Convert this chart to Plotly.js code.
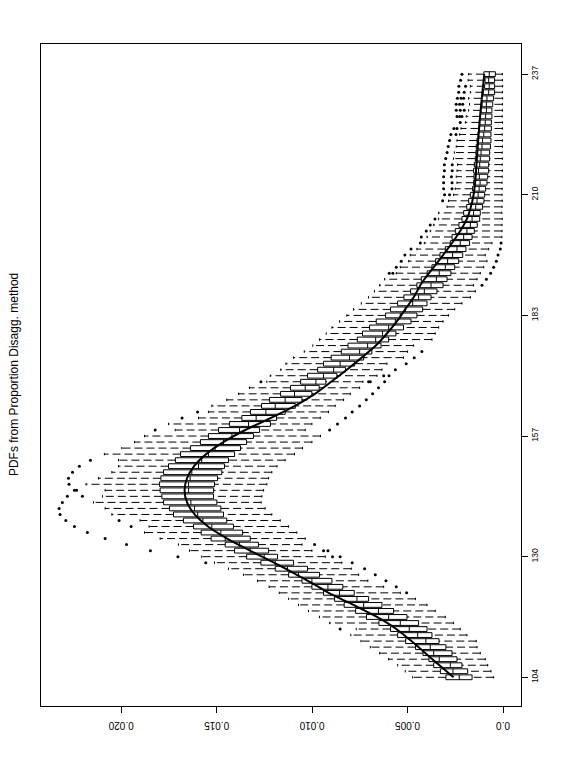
<!DOCTYPE html>
<html>
<head>
<meta charset="utf-8">
<script src="https://cdn.plot.ly/plotly-3.0.1.min.js"></script>
<style>
html,body{margin:0;padding:0;background:#fff;}
#chart{width:573px;height:771px;}
</style>
</head>
<body>
<div id="chart"></div>
<script>
// ---- data ----
const ageLabels = ['104','130','157','183','210','237'];
const labelPositions = [1, 21, 41, 61, 81, 101];

const q1 = [0.00162,0.00185,0.00215,0.00241,0.00267,0.00299,0.00335,0.00372,0.00398,0.00442,
0.00503,0.00573,0.00634,0.00704,0.00779,0.00839,0.00896,0.00961,0.01024,0.01097,
0.01181,0.01228,0.01281,0.01324,0.01364,0.01412,0.01447,0.01464,0.01478,0.01499,
0.01516,0.01516,0.01511,0.01495,0.01473,0.01459,0.01438,0.01406,0.01375,0.01343,
0.01307,0.01275,0.01218,0.01186,0.01141,0.01088,0.01053,0.01001,0.00963,0.00928,
0.00870,0.00825,0.00777,0.00730,0.00687,0.00639,0.00599,0.00561,0.00521,0.00482,
0.00451,0.00421,0.00398,0.00377,0.00346,0.00314,0.00293,0.00273,0.00253,0.00232,
0.00211,0.00194,0.00175,0.00162,0.00150,0.00135,0.00122,0.00119,0.00107,0.00100,
0.00096,0.00091,0.00084,0.00080,0.00075,0.00075,0.00070,0.00070,0.00066,0.00063,
0.00063,0.00061,0.00061,0.00058,0.00058,0.00054,0.00049,0.00044,0.00044,0.00044,0.00040];

const median = [0.00229,0.00262,0.00276,0.00334,0.00363,0.00381,0.00404,0.00447,0.00491,0.00538,
0.00599,0.00652,0.00730,0.00765,0.00856,0.00917,0.01001,0.01071,0.01129,0.01193,
0.01251,0.01324,0.01380,0.01455,0.01478,0.01525,0.01572,0.01599,0.01616,0.01635,
0.01665,0.01647,0.01647,0.01639,0.01630,0.01595,0.01578,0.01543,0.01508,0.01464,
0.01420,0.01380,0.01333,0.01293,0.01242,0.01193,0.01141,0.01092,0.01036,0.00980,
0.00940,0.00887,0.00853,0.00804,0.00751,0.00709,0.00667,0.00631,0.00599,0.00564,
0.00538,0.00512,0.00473,0.00442,0.00412,0.00377,0.00349,0.00334,0.00302,0.00290,
0.00264,0.00241,0.00224,0.00206,0.00189,0.00171,0.00162,0.00154,0.00143,0.00136,
0.00130,0.00125,0.00120,0.00124,0.00128,0.00122,0.00119,0.00115,0.00110,0.00107,
0.00101,0.00096,0.00093,0.00091,0.00087,0.00087,0.00084,0.00075,0.00072,0.00075,0.00072];

const q3 = [0.00299,0.00328,0.00363,0.00388,0.00419,0.00458,0.00510,0.00552,0.00589,0.00650,
0.00715,0.00772,0.00832,0.00882,0.00940,0.01001,0.01053,0.01123,0.01193,0.01268,
0.01343,0.01406,0.01455,0.01529,0.01581,0.01621,0.01674,0.01726,0.01747,0.01778,
0.01787,0.01796,0.01799,0.01792,0.01778,0.01752,0.01716,0.01689,0.01637,0.01585,
0.01543,0.01490,0.01433,0.01368,0.01323,0.01265,0.01223,0.01165,0.01113,0.01060,
0.01024,0.00971,0.00940,0.00900,0.00847,0.00812,0.00763,0.00736,0.00699,0.00664,
0.00615,0.00589,0.00552,0.00519,0.00484,0.00451,0.00428,0.00397,0.00372,0.00353,
0.00330,0.00302,0.00276,0.00267,0.00250,0.00231,0.00215,0.00206,0.00190,0.00180,
0.00171,0.00159,0.00154,0.00152,0.00154,0.00150,0.00145,0.00142,0.00140,0.00136,
0.00131,0.00128,0.00124,0.00119,0.00115,0.00110,0.00112,0.00103,0.00096,0.00094,0.00100];

const whiskerHigh = [0.00473,0.00512,0.00552,0.00599,0.00646,0.00695,0.00744,0.00797,0.00769,0.00908,
0.00961,0.01019,0.01071,0.01123,0.01172,0.01225,0.01286,0.01359,0.01438,0.01511,
0.01578,0.01642,0.01700,0.01796,0.01878,0.01854,0.01901,0.02049,0.02084,0.02145,
0.02098,0.02084,0.02184,0.02119,0.02049,0.02014,0.02014,0.02088,0.01997,0.01930,
0.01878,0.01717,0.01752,0.01595,0.01543,0.01525,0.01447,0.01385,0.01328,0.01237,
0.01219,0.01164,0.01137,0.01097,0.01041,0.00996,0.00961,0.00926,0.00896,0.00856,
0.00818,0.00783,0.00742,0.00704,0.00673,0.00646,0.00620,0.00559,0.00538,0.00494,
0.00486,0.00451,0.00412,0.00398,0.00381,0.00363,0.00337,0.00337,0.00293,0.00285,
0.00259,0.00250,0.00241,0.00245,0.00241,0.00238,0.00259,0.00255,0.00245,0.00241,
0.00227,0.00220,0.00197,0.00192,0.00180,0.00175,0.00180,0.00171,0.00171,0.00183,0.00180];

const whiskerLow = [0.00049,0.00063,0.00080,0.00093,0.00119,0.00136,0.00140,0.00189,0.00224,0.00259,
0.00302,0.00355,0.00398,0.00459,0.00538,0.00625,0.00708,0.00756,0.00795,0.00844,
0.00931,0.01001,0.01053,0.01036,0.01080,0.01123,0.01167,0.01211,0.01246,0.01267,
0.01263,0.01254,0.01237,0.01228,0.01211,0.01184,0.01141,0.01092,0.01050,0.01001,
0.00956,0.01036,0.01001,0.00957,0.00914,0.00879,0.00835,0.00800,0.00751,0.00734,
0.00660,0.00634,0.00608,0.00521,0.00500,0.00468,0.00372,0.00355,0.00337,0.00314,
0.00285,0.00253,0.00215,0.00171,0.00145,0.00154,0.00136,0.00119,0.00101,0.00084,
0.00093,0.00075,0.00058,0.00006,0.00005,0.00005,0.00004,0.00006,0.00005,0.00004,
0.00005,0.00004,0.00005,0.00004,0.00003,0.00004,0.00003,0.00004,0.00003,0.00003,
0.00004,0.00003,0.00003,0.00004,0.00003,0.00003,0.00002,0.00003,0.00002,0.00003,0.00003];

// outliers: box number (1-based) and value
const outlierBox = [9,15,16,17,18,19,20,20,21,21,21,22,22,22,23,23,24,25,26,26,27,27,28,29,30,31,31,32,32,33,34,35,36,37,
42,42,43,44,44,45,45,46,47,48,49,50,50,50,50,51,51,52,53,54,55,
66,67,68,68,68,69,69,70,70,71,71,72,72,73,73,74,75,76,77,
80,81,81,82,82,83,83,84,84,85,85,86,86,87,88,89,90,91,91,92,92,93,94,94,94,95,95,95,96,96,96,97,97,97,98,98,99,99,100,101];
const outlierValue = [0.00853,0.00505,0.00559,0.00613,0.00669,0.00725,0.00790,0.01557,0.00893,0.00853,0.01703,0.00940,0.00917,0.01847,0.00987,0.01972,0.02084,0.02177,0.02245,0.01948,0.02290,0.02011,0.02320,0.02325,0.02308,0.02282,0.02203,0.02245,0.02234,0.02273,0.02276,0.02255,0.02219,0.02161,
0.01822,0.00908,0.00867,0.01681,0.00825,0.01600,0.00790,0.00751,0.00716,0.00683,0.00652,0.01268,0.00704,0.00695,0.00620,0.00625,0.00597,0.00564,0.00507,0.00465,0.00425,
0.00110,0.00087,0.00596,0.00577,0.00065,0.00559,0.00049,0.00533,0.00035,0.00514,0.00026,0.00482,0.00014,0.00433,0.00010,0.00428,0.00402,0.00381,0.00356,
0.00316,0.00306,0.00280,0.00311,0.00267,0.00311,0.00267,0.00311,0.00270,0.00307,0.00266,0.00307,0.00266,0.00300,0.00293,0.00287,0.00280,0.00273,0.00246,0.00257,0.00241,0.00224,0.00241,0.00227,0.00215,0.00245,0.00224,0.00203,0.00245,0.00227,0.00211,0.00239,0.00220,0.00206,0.00232,0.00203,0.00231,0.00196,0.00222,0.00215];

// reference density curve (box number, value)
const curveBox = [1,4,7,9,11,13,15,16,18,20,22,24,26,28,30,32,34,36,38,40,42,44,46,48,50,52,54,56,58,60,62,64,66,67,69,71,73,75,77,79,81,83,86,90,94,98,101];
const curveValue = [0.00259,0.00370,0.00480,0.00559,0.00660,0.00783,0.00914,0.00966,0.01080,0.01200,0.01325,0.01445,0.01545,0.01615,0.01655,0.01668,0.01655,0.01618,0.01555,0.01465,0.01350,0.01215,0.01090,0.00985,0.00900,0.00818,0.00740,0.00666,0.00608,0.00556,0.00512,0.00468,0.00433,0.00412,0.00363,0.00314,0.00267,0.00224,0.00189,0.00168,0.00154,0.00146,0.00139,0.00130,0.00120,0.00108,0.00098];

// ---- build traces ----
const positions = q1.map((_, i) => i + 1);

const whX = [], whY = [];
const stX = [], stY = [];
const sw = 0.2;
positions.forEach((p, i) => {
  whX.push(whiskerLow[i], q1[i], null, q3[i], whiskerHigh[i], null);
  whY.push(p, p, null, p, p, null);
  stX.push(whiskerLow[i], whiskerLow[i], null, whiskerHigh[i], whiskerHigh[i], null);
  stY.push(p - sw, p + sw, null, p - sw, p + sw, null);
});

const traces = [
  {type:'scatter', mode:'lines', x:whX, y:whY, hoverinfo:'skip',
   line:{color:'#000', width:1, dash:'8px,4px'}, showlegend:false},
  {type:'scatter', mode:'lines', x:stX, y:stY, hoverinfo:'skip',
   line:{color:'#000', width:1}, showlegend:false},
  {type:'box', orientation:'h', y:positions, q1:q1, median:median, q3:q3,
   lowerfence:q1, upperfence:q3, width:0.8, boxpoints:false,
   fillcolor:'#fff', line:{color:'#000', width:1}, whiskerwidth:0, showlegend:false},
  {type:'scatter', mode:'markers', x:outlierValue, y:outlierBox,
   marker:{color:'#000', size:3, symbol:'circle'}, showlegend:false},
  {type:'scatter', mode:'lines', x:curveValue, y:curveBox,
   line:{color:'#000', width:2, shape:'spline', smoothing:0.8}, showlegend:false}
];

const layout = {
  width:573, height:771,
  margin:{l:41, r:52, t:44, b:65},
  paper_bgcolor:'#fff', plot_bgcolor:'#fff',
  font:{family:'"Liberation Sans", Arial, sans-serif', color:'#000'},
  showlegend:false,
  xaxis:{
    range:[0.02420, -0.000943], autorange:false,
    tickmode:'array', tickvals:[0,0.005,0.010,0.015,0.020],
    ticktext:['0.0','0.005','0.010','0.015','0.020'],
    tickangle:180, ticks:'outside', ticklen:6, tickwidth:1, tickcolor:'#000',
    ticklabelstandoff:7,
    tickfont:{size:10, family:'"Liberation Sans", Arial, sans-serif'},
    showline:true, mirror:true, linecolor:'#000', linewidth:1,
    showgrid:false, zeroline:false
  },
  yaxis:{
    range:[-3.76, 106.0], autorange:false, side:'right',
    tickmode:'array', tickvals:labelPositions, ticktext:ageLabels,
    tickangle:-90, ticks:'outside', ticklen:6, tickwidth:1, tickcolor:'#000',
    tickfont:{size:8.5, family:'"Liberation Sans", Arial, sans-serif'},
    showline:true, mirror:true, linecolor:'#000', linewidth:1,
    showgrid:false, zeroline:false
  },
  annotations:[{
    text:'PDFs from Proportion Disagg. method', xref:'paper', yref:'paper',
    x:-0.056, y:0.5, xanchor:'center', yanchor:'middle', textangle:-90,
    showarrow:false, font:{size:12, family:'"Liberation Sans", Arial, sans-serif'}
  }]
};

Plotly.newPlot('chart', traces, layout, {displayModeBar:false, staticPlot:true});
</script>
</body>
</html>
